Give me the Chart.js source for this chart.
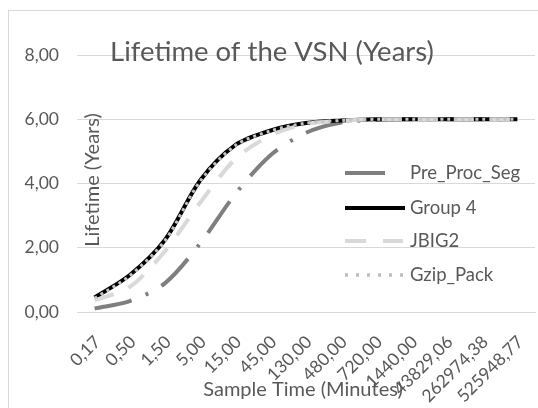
<!DOCTYPE html>
<html>
<head>
<meta charset="utf-8">
<title>Lifetime of the VSN (Years)</title>
<script src="https://cdn.jsdelivr.net/npm/chart.js@4.4.1/dist/chart.umd.min.js"></script>
<style>
    html, body { margin: 0; padding: 0; background: #ffffff; }
</style>
</head>
<body>
<canvas id="lifetimeChart" width="538" height="408"></canvas>
<script>
// Sample time (minutes) categories
const sampleTimes = ['0,17', '0,50', '1,50', '5,00', '15,00', '45,00', '130,00', '480,00',
    '720,00', '1440,00', '43829,06', '262974,38', '525948,77'];

// Lifetime in years for each method
const preProcSeg = [0.11, 0.34, 0.90, 2.14, 3.68, 4.89, 5.58, 5.90, 5.98, 6.00, 6.00, 6.00, 6.00];
const group4     = [0.45, 1.15, 2.25, 4.10, 5.20, 5.65, 5.88, 5.96, 6.00, 6.00, 6.00, 6.00, 6.00];
const jbig2      = [0.36, 0.78, 1.90, 3.41, 4.77, 5.50, 5.85, 5.95, 6.00, 6.00, 6.00, 6.00, 6.00];
const gzipPack   = [0.43, 1.13, 2.23, 4.08, 5.19, 5.64, 5.88, 5.96, 6.00, 6.00, 6.00, 6.00, 6.00];

const yTicks = [0, 2, 4, 6, 8];

const TEXT = '#595959';
const FONT = 'Lato, "Open Sans", sans-serif';

// legend entries (drawn inside the plot, like the original)
const legendItems = [
    { label: 'Pre_Proc_Seg', color: '#7f7f7f', width: 4, dash: [40, 40], len: 42 },
    { label: 'Group 4', color: '#000000', width: 4, dash: [], len: 60 },
    { label: 'JBIG2', color: '#d9d9d9', width: 4, dash: [21, 17], len: 58 },
    { label: 'Gzip_Pack', color: '#bfbfbf', width: 3.5, dash: [3, 8], len: 60 }
];

const decorations = {
    id: 'decorations',
    beforeDraw(chart) {
        const ctx = chart.ctx;
        ctx.save();
        ctx.fillStyle = '#ffffff';
        ctx.fillRect(0, 0, chart.width, chart.height);
        ctx.strokeStyle = '#d9d9d9';
        ctx.lineWidth = 1;
        ctx.strokeRect(8.5, 10.5, 700, 700);
        ctx.restore();
    },
    beforeDatasetsDraw(chart) {
        const ctx = chart.ctx;
        const xScale = chart.scales.x;
        ctx.save();
        ctx.fillStyle = TEXT;
        // chart title
        ctx.font = '27.5px ' + FONT;
        ctx.textAlign = 'center';
        ctx.textBaseline = 'alphabetic';
        ctx.fillText('Lifetime of the VSN (Years)', 272, 61);
        // x axis title
        ctx.font = '20px ' + FONT;
        ctx.textBaseline = 'middle';
        ctx.fillText('Sample Time (Minutes)', 303, 390);
        // rotated category labels
        ctx.font = '17.5px ' + FONT;
        ctx.textAlign = 'right';
        sampleTimes.forEach((lbl, i) => {
            const x = xScale.getPixelForTick(i);
            ctx.save();
            ctx.translate(x + 3, xScale.top + 27);
            ctx.rotate(-Math.PI / 4);
            ctx.fillText(lbl, 0, 0);
            ctx.restore();
        });
        // y axis title
        ctx.textAlign = 'center';
        ctx.font = '20px ' + FONT;
        ctx.translate(93, 180);
        ctx.rotate(-Math.PI / 2);
        ctx.fillText('Lifetime (Years)', 0, 0);
        ctx.restore();
    },
    afterDatasetsDraw(chart) {
        const ctx = chart.ctx;
        ctx.save();
        const rows = [173, 208, 241, 275];
        legendItems.forEach((item, i) => {
            const y = rows[i];
            ctx.strokeStyle = item.color;
            ctx.lineWidth = item.width;
            ctx.setLineDash(item.dash);
            ctx.beginPath();
            ctx.moveTo(345, y);
            ctx.lineTo(345 + item.len, y);
            ctx.stroke();
            ctx.setLineDash([]);
            ctx.fillStyle = TEXT;
            ctx.font = '18.5px ' + FONT;
            ctx.textAlign = 'left';
            ctx.textBaseline = 'middle';
            ctx.fillText(item.label, 410, y);
        });
        ctx.restore();
    }
};

const lineDefaults = { pointRadius: 0, pointHoverRadius: 0, tension: 0.3, fill: false };

new Chart(document.getElementById('lifetimeChart'), {
    type: 'line',
    data: {
        labels: sampleTimes,
        datasets: [
            { ...lineDefaults, label: 'Pre_Proc_Seg', data: preProcSeg, borderColor: '#7f7f7f',
              borderWidth: 4, borderDash: [38, 15, 3, 15], order: 4 },
            { ...lineDefaults, label: 'Group 4', data: group4, borderColor: '#000000',
              borderWidth: 4, order: 3 },
            { ...lineDefaults, label: 'JBIG2', data: jbig2, borderColor: '#d9d9d9',
              borderWidth: 4, borderDash: [20, 16], order: 2 },
            { ...lineDefaults, label: 'Gzip_Pack', data: gzipPack, borderColor: '#c4c4c4',
              borderWidth: 3, borderDash: [3, 4], order: 1 }
        ]
    },
    options: {
        responsive: false,
        animation: false,
        layout: { padding: { left: 0, right: 3, top: 55, bottom: 0 } },
        plugins: {
            legend: { display: false },
            title: { display: false },
            tooltip: { enabled: false }
        },
        scales: {
            x: {
                offset: true,
                grid: { display: false, drawTicks: false },
                border: { display: true, color: '#d9d9d9', width: 1 },
                ticks: { display: false, autoSkip: false },
                afterFit(scale) { scale.height = 96; }
            },
            y: {
                min: 0,
                max: 8,
                afterBuildTicks(scale) { scale.ticks = yTicks.map(v => ({ value: v })); },
                grid: { color: '#d9d9d9', drawTicks: false },
                border: { display: false },
                ticks: {
                    color: TEXT,
                    font: { family: FONT, size: 17.5 },
                    padding: 18,
                    callback: v => v.toFixed(2).replace('.', ',')
                },
                afterFit(scale) { scale.width = 77; }
            }
        }
    },
    plugins: [decorations]
});
</script>
</body>
</html>
